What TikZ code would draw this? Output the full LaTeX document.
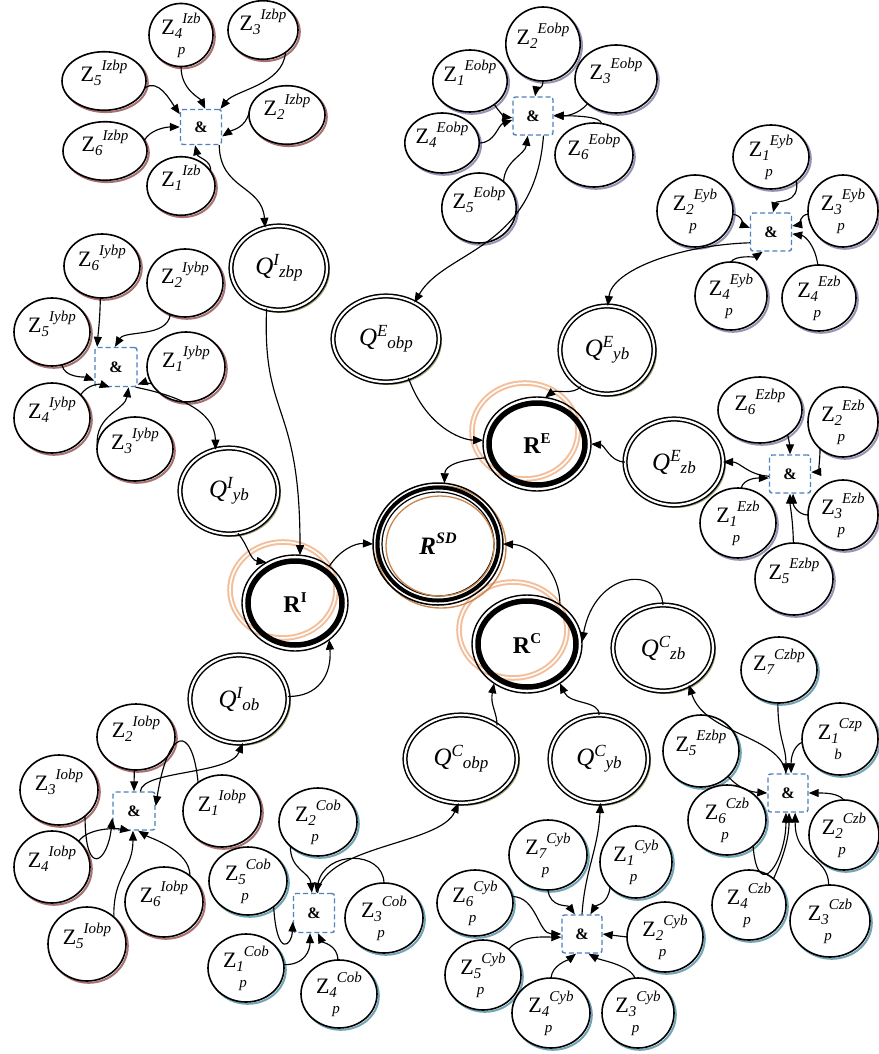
\documentclass[tikz,border=0pt]{standalone}
\usepackage{fontspec}
\setmainfont{Liberation Serif}
\usetikzlibrary{shapes.geometric,arrows.meta}

\definecolor{zIc}{HTML}{A87070}
\definecolor{zEc}{HTML}{9494B4}
\definecolor{zCc}{HTML}{70A4B6}
\definecolor{qsh}{HTML}{9CA478}
\definecolor{haloc}{HTML}{F4BE9A}
\definecolor{sdring}{HTML}{C8864E}
\definecolor{boxc}{HTML}{4F81BD}

% Z labels: Z, subscript, superscript and an optional wrapped line below
\newcommand{\zsz}{\fontsize{15}{15}\selectfont\itshape}
\newcommand{\zlabs}[3]{Z\rlap{\raisebox{-20pt}{\kern3pt\zsz #3}}\raisebox{-4pt}{\zsz #1}\raisebox{11pt}{\zsz #2}}
\newcommand{\zlab}[3]{\rule[-20pt]{0pt}{20pt}\zlabs{#1}{#2}{#3}}
\newcommand{\qlab}[2]{{\fontsize{25}{25}\selectfont\itshape Q\raisebox{9pt}{\fontsize{17}{17}\selectfont #1}\raisebox{-3pt}{\fontsize{17}{17}\selectfont #2}}}
\newcommand{\rlab}[1]{{\fontsize{24}{24}\selectfont\bfseries R\raisebox{10pt}{\fontsize{15}{15}\selectfont #1}}}

\begin{document}
\begin{tikzpicture}[x=1pt,y=-1pt,
  sz/.style 2 args={minimum width=#1pt, minimum height=#2pt},
  zbase/.style={ellipse, draw, line width=1.6pt, fill=white, inner sep=0pt, outer sep=0pt,
    font=\fontsize{22}{24}\selectfont},
  zI/.style={zbase, preaction={draw=zIc, line width=2pt, transform canvas={shift={(1.8pt,-1.8pt)}}}},
  zE/.style={zbase, preaction={draw=zEc, line width=2pt, transform canvas={shift={(1.8pt,-1.8pt)}}}},
  zC/.style={zbase, preaction={draw=zCc, line width=2pt, transform canvas={shift={(1.8pt,-1.8pt)}}}},
  qn/.style={ellipse, draw, line width=1.5pt, double=white, double distance=2.2pt, fill=white,
    inner sep=0pt, outer sep=0pt,
    preaction={draw=qsh, line width=2pt, transform canvas={shift={(2pt,-2pt)}}}},
  rn/.style={ellipse, draw, line width=1.4pt, inner sep=0pt, outer sep=0pt},
  ring/.style={line width=5.5pt},
  halo/.style={draw=haloc, line width=2pt, double=white, double distance=1.6pt},
  andbox/.style={rectangle, draw=boxc, line width=1.4pt, dash pattern=on 5pt off 3pt,
    rounded corners=2.5pt, fill=white, minimum width=41pt, minimum height=38pt, inner sep=0pt,
    font=\bfseries\fontsize{16}{16}\selectfont},
  conn/.style={line width=1.15pt, -{Triangle[length=10pt,width=8pt]}}
]
\useasboundingbox (0,0) rectangle (878,1054);

% ---- result nodes: halos and rings ----
\draw[halo] (525,431) ellipse [x radius=53pt, y radius=48pt];
\draw[halo] (283,590) ellipse [x radius=53pt, y radius=48pt];
\draw[halo] (513,630) ellipse [x radius=54pt, y radius=48pt];
\draw[line width=1.4pt, sdring] (441,547) ellipse [x radius=65pt, y radius=61pt];

\node[rn, sz={108}{94}] (rE) at (537,444) {\rlab{E}};
\draw[ring] (rE.center) ellipse [x radius=48pt, y radius=41pt];
\node[rn, sz={106}{96}] (rI) at (295,603) {\rlab{I}};
\draw[ring] (rI.center) ellipse [x radius=47pt, y radius=42pt];
\node[rn, sz={110}{98}] (rC) at (527,644) {\rlab{C}};
\draw[ring] (rC.center) ellipse [x radius=49pt, y radius=43pt];

\node[rn, line width=1.5pt, sz={130}{122}] (rSD) at (438,544)
  {{\fontsize{25}{25}\selectfont\bfseries\itshape R\raisebox{11pt}{\fontsize{16}{16}\selectfont SD}}};
\draw[line width=4pt] (rSD.center) ellipse [x radius=60.5pt, y radius=56.5pt];
\draw[line width=1.2pt] (rSD.center) ellipse [x radius=56pt, y radius=52pt];
\draw[line width=1.3pt, sdring] (440,546) ellipse [x radius=54pt, y radius=50pt];

% ---- intermediate nodes ----
\node[qn, sz={96}{84}]  (qIz) at (279,268) {\qlab{I}{zbp}};
\node[qn, sz={106}{86}] (qEo) at (386,339) {\qlab{E}{obp}};
\node[qn, sz={94}{88}]  (qEy) at (607,350) {\qlab{E}{yb}};
\node[qn, sz={98}{86}]  (qIy) at (229,491) {\qlab{I}{yb}};
\node[qn, sz={98}{88}]  (qIo) at (239,699) {\qlab{I}{ob}};
\node[qn, sz={98}{86}]  (qEz) at (674,462) {\qlab{E}{zb}};
\node[qn, sz={100}{86}] (qCz) at (663,648) {\qlab{C}{zb}};
\node[qn, sz={112}{88}] (qCo) at (461,759) {\qlab{C}{obp}};
\node[qn, sz={98}{88}]  (qCy) at (599,759) {\qlab{C}{yb}};

% ---- group Izbp ----
\node[zI, sz={64}{54}] (a4) at (181,35)  {\zlabs{4}{Izb}{p}};
\node[zI, sz={70}{42}] (a3) at (263,30)  {\zlabs{3}{Izbp}{}};
\node[zI, sz={84}{42}] (a5) at (104,81)  {\zlabs{5}{Izbp}{}};
\node[zI, sz={84}{44}] (a6) at (105,151) {\zlabs{6}{Izbp}{}};
\node[zI, sz={76}{44}] (a2) at (287,115) {\zlabs{2}{Izbp}{}};
\node[zI, sz={68}{48}] (a1) at (181,186) {\zlabs{1}{Izb}{}};
\node[andbox, minimum height=35pt] (andA) at (201,127) {\&};

% ---- group Eobp ----
\node[zE, sz={66}{74}] (b2) at (543,44)  {\zlab{2}{Eobp}{}};
\node[zE, sz={74}{62}] (b1) at (470,81)  {\zlab{1}{Eobp}{}};
\node[zE, sz={82}{68}] (b3) at (616,79)  {\zlab{3}{Eobp}{}};
\node[zE, sz={70}{60}] (b4) at (442,143) {\zlab{4}{Eobp}{}};
\node[zE, sz={78}{64}] (b6) at (594,155) {\zlab{6}{Eobp}{}};
\node[zE, sz={72}{70}] (b5) at (479,208) {\zlab{5}{Eobp}{}};
\node[andbox, minimum width=40pt] (andB) at (533,116) {\&};

% ---- group Eyb ----
\node[zE, sz={76}{64}] (c1) at (771,157) {\zlab{1}{Eyb}{p}};
\node[zE, sz={76}{72}] (c2) at (695,211) {\zlab{2}{Eyb}{p}};
\node[zE, sz={70}{72}] (c3) at (843,211) {\zlab{3}{Eyb}{p}};
\node[zE, sz={72}{68}] (c4) at (731,296) {\zlab{4}{Eyb}{p}};
\node[zE, sz={74}{66}] (c5) at (819,298) {\zlab{4}{Ezb}{p}};
\node[andbox] (andC) at (771,232) {\&};

% ---- group Iybp ----
\node[zI, sz={76}{64}] (d6) at (102,266) {\zlab{6}{Iybp}{}};
\node[zI, sz={76}{68}] (d2) at (185,283) {\zlab{2}{Iybp}{}};
\node[zI, sz={76}{68}] (d5) at (52,332)  {\zlab{5}{Iybp}{}};
\node[zI, sz={78}{70}] (d1) at (186,367) {\zlab{1}{Iybp}{}};
\node[zI, sz={76}{70}] (d4) at (52,418)  {\zlab{4}{Iybp}{}};
\node[zI, sz={76}{64}] (d3) at (135,449) {\zlab{3}{Iybp}{}};
\node[andbox, minimum width=42pt, minimum height=39pt] (andD) at (116,367) {\&};

% ---- group Iobp ----
\node[zI, sz={78}{66}] (e2) at (136,737) {\zlab{2}{Iobp}{}};
\node[zI, sz={78}{70}] (e3) at (59,790)  {\zlab{3}{Iobp}{}};
\node[zI, sz={78}{72}] (e1) at (222,811) {\zlab{1}{Iobp}{}};
\node[zI, sz={76}{72}] (e4) at (52,867)  {\zlab{4}{Iobp}{}};
\node[zI, sz={78}{70}] (e6) at (164,902) {\zlab{6}{Iobp}{}};
\node[zI, sz={78}{74}] (e5) at (87,944)  {\zlab{5}{Iobp}{}};
\node[andbox, minimum width=42pt] (andE) at (134,811) {\&};

% ---- group Cob ----
\node[zC, sz={78}{68}] (f2) at (318,822) {\zlab{2}{Cob}{p}};
\node[zC, sz={78}{68}] (f5) at (248,881) {\zlab{5}{Cob}{p}};
\node[zC, sz={78}{70}] (f3) at (384,918) {\zlab{3}{Cob}{p}};
\node[zC, sz={76}{68}] (f1) at (246,968) {\zlab{1}{Cob}{p}};
\node[zC, sz={76}{68}] (f4) at (339,994) {\zlab{4}{Cob}{p}};
\node[andbox, minimum height=39pt] (andF) at (314,913) {\&};

% ---- group Cyb ----
\node[zC, sz={78}{70}] (g7) at (548,855)  {\zlab{7}{Cyb}{p}};
\node[zC, sz={72}{72}] (g1) at (636,862)  {\zlab{1}{Cyb}{p}};
\node[zC, sz={76}{66}] (g6) at (475,903)  {\zlab{6}{Cyb}{p}};
\node[zC, sz={76}{70}] (g2) at (665,937)  {\zlab{2}{Cyb}{p}};
\node[zC, sz={76}{70}] (g5) at (483,975)  {\zlab{5}{Cyb}{p}};
\node[zC, sz={78}{70}] (g4) at (551,1013) {\zlab{4}{Cyb}{p}};
\node[zC, sz={72}{70}] (g3) at (638,1013) {\zlab{3}{Cyb}{p}};
\node[andbox, minimum width=40pt] (andG) at (582,934) {\&};

% ---- group Czb ----
\node[zC, sz={76}{66}] (h7) at (779,670) {\zlab{7}{Czbp}{}};
\node[zC, sz={76}{72}] (h1) at (840,739) {\zlab{1}{Czp}{b}};
\node[zC, sz={76}{72}] (h5) at (701,751) {\zlab{5}{Ezbp}{}};
\node[zC, sz={78}{70}] (h6) at (727,820) {\zlab{6}{Czb}{p}};
\node[zC, sz={70}{70}] (h2) at (844,835) {\zlab{2}{Czb}{p}};
\node[zC, sz={74}{70}] (h4) at (749,905) {\zlab{4}{Czb}{p}};
\node[zC, sz={80}{72}] (h3) at (830,921) {\zlab{3}{Czb}{p}};
\node[andbox, minimum width=40pt] (andH) at (788,793) {\&};

% ---- group Ezb ----
\node[zE, sz={84}{66}] (i6) at (760,410) {\zlab{6}{Ezbp}{}};
\node[zE, sz={70}{70}] (i2) at (843,422) {\zlab{2}{Ezb}{p}};
\node[zE, sz={76}{70}] (i1) at (738,523) {\zlab{1}{Ezb}{p}};
\node[zE, sz={70}{70}] (i3) at (843,515) {\zlab{3}{Ezb}{p}};
\node[zE, sz={78}{72}] (i5) at (794,579) {\zlab{5}{Ezbp}{}};
\node[andbox] (andI) at (790,474) {\&};

% ---- connectors: group Izbp ----
\draw[conn] (a4.-90) .. controls (181,90) and (200,98) .. (andA.77);
\draw[conn] (a3.-45) .. controls (283,85) and (235,90) .. (andA.43);
\draw[conn] (a5.-10) .. controls (158,78) and (170,100) .. (andA.149);
\draw[conn] (a6.15) .. controls (150,130) and (165,127) .. (andA.180);
\draw[conn] (a2.175) .. controls (246,128) and (232,130) .. (andA.-24);
\draw[conn] (a1.26) .. controls (212,160) and (198,158) .. (andA.-108);
\draw[conn] (andA.-45) .. controls (220,190) and (262,185) .. (qIz.109);
\draw[conn] (qIz.-107) .. controls (262,420) and (300,400) .. (rI.84);

% ---- group Eobp ----
\draw[conn] (b2.-90) .. controls (543,90) and (536,90) .. (andB.84);
\draw[conn] (b1.-44) .. controls (500,113) and (505,117) .. (andB.185);
\draw[conn] (b4.0) .. controls (495,143) and (498,125) .. (andB.191);
\draw[conn] (b3.221) .. controls (578,115) and (565,116) .. (andB.0);
\draw[conn] (b6.76) .. controls (600,116) and (575,116) .. (andB.2);
\draw[conn] (b5.47) .. controls (505,160) and (525,155) .. (andB.-105);
\draw[conn] (andB.-62) .. controls (535,250) and (445,250) .. (qEo.52);

% ---- group Eyb ----
\draw[conn] (c1.-43) .. controls (800,205) and (776,200) .. (andC.84);
\draw[conn] (c2.-5) .. controls (742,215) and (745,226) .. (andC.169);
\draw[conn] (c3.185) .. controls (800,215) and (798,225) .. (andC.16);
\draw[conn] (c4.90) .. controls (735,255) and (755,257) .. (andC.-113);
\draw[conn] (c5.92) .. controls (815,245) and (805,236) .. (andC.-5);
\draw[conn] (andC.207) .. controls (680,245) and (612,270) .. (qEy.89);

% ---- group Iybp ----
\draw[conn] (d6.-93) .. controls (100,320) and (98,335) .. (andD.133);
\draw[conn] (d2.-115) .. controls (167,338) and (125,330) .. (andD.93);
\draw[conn] (d5.-73) .. controls (64,378) and (85,377) .. (andD.212);
\draw[conn] (d4.39) .. controls (88,384) and (100,384) .. (andD.-107);
\draw[conn] (d1.206) .. controls (148,383) and (142,383) .. (andD.-39);
\draw[conn] (d3.175) .. controls (95,415) and (125,410) .. (andD.-58);
\draw[conn] (andD.-46) .. controls (175,395) and (215,410) .. (qIy.108);
\draw[conn] (qIy.-78) .. controls (248,545) and (250,560) .. (rI.125);

% ---- group Iobp ----
\draw[conn] (e2.-93) -- (andE.90);
\draw[conn] (e1.130) .. controls (192,722) and (168,728) .. (andE.13);
\draw[conn] (e3.-45) .. controls (85,880) and (108,862) .. (andE.198);
\draw[conn] (e4.44) .. controls (88,828) and (115,828) .. (andE.-101);
\draw[conn] (e5.45) .. controls (113,875) and (133,870) .. (andE.-93);
\draw[conn] (e6.45) .. controls (190,850) and (150,838) .. (andE.-78);
\draw[conn] (andE.72) .. controls (142,770) and (230,775) .. (qIo.-85);
\draw[conn] (qIo.3) .. controls (318,697) and (332,675) .. (rI.-47);

% ---- group Cob ----
\draw[conn] (f2.221) .. controls (290,870) and (310,872) .. (andF.96);
\draw[conn] (f3.90) .. controls (383,850) and (325,850) .. (andF.84);
\draw[conn] (andF.80) .. controls (325,845) and (440,845) .. (qCo.-93);
\draw[conn] (f5.-45) .. controls (277,960) and (292,945) .. (andF.202);
\draw[conn] (f1.5) .. controls (305,965) and (310,950) .. (andF.-101);
\draw[conn] (f4.92) .. controls (338,945) and (322,942) .. (andF.-79);
\draw[conn] (qCo.43) .. controls (497,712) and (490,705) .. (rC.-130);
\draw[conn] (qCy.90) .. controls (600,700) and (570,705) .. (rC.-50);

% ---- group Cyb ----
\draw[conn] (g7.-90) .. controls (550,908) and (568,905) .. (andG.110);
\draw[conn] (g1.224) .. controls (608,905) and (596,905) .. (andG.67);
\draw[conn] (andG.90) .. controls (585,870) and (598,850) .. (qCy.-88);
\draw[conn] (g6.10) .. controls (537,897) and (538,934) .. (andG.180);
\draw[conn] (g5.45) .. controls (520,935) and (545,937) .. (andG.189);
\draw[conn] (g2.180) -- (andG.0);
\draw[conn] (g4.90) .. controls (552,965) and (568,960) .. (andG.-107);
\draw[conn] (g3.95) .. controls (630,965) and (600,960) .. (andG.-72);

% ---- group Czb ----
\draw[conn] (h7.-92) .. controls (778,740) and (786,745) .. (andH.96);
\draw[conn] (h1.185) .. controls (795,745) and (791,755) .. (andH.81);
\draw[conn] (andH.96) .. controls (780,735) and (705,735) .. (qCz.-55);
\draw[conn] (h5.-43) .. controls (740,790) and (752,792) .. (andH.180);
\draw[conn] (h2.90) .. controls (838,793) and (825,793) .. (andH.0);
\draw[conn] (h6.-45) .. controls (758,905) and (786,860) .. (andH.-96);
\draw[conn] (h4.47) .. controls (782,860) and (789,840) .. (andH.-87);
\draw[conn] (h3.92) .. controls (828,855) and (795,860) .. (andH.-70);

% ---- group Ezb ----
\draw[conn] (i6.-42) .. controls (790,445) and (790,448) .. (andI.90);
\draw[conn] (i2.229) .. controls (820,465) and (817,472) .. (andI.5);
\draw[conn] (i1.85) .. controls (744,478) and (758,478) .. (andI.191);
\draw[conn] (andI.186) .. controls (748,475) and (740,462) .. (qEz.0);
\draw[conn] (i3.180) .. controls (798,515) and (793,505) .. (andI.-81);
\draw[conn] (i5.91) .. controls (793,520) and (790,505) .. (andI.-90);

% ---- into the results ----
\draw[conn] (qEz.180) .. controls (610,462) and (605,445) .. (rE.0);
\draw[conn] (qEy.234) .. controls (575,395) and (555,390) .. (rE.80);
\draw[conn] (qEo.-60) .. controls (425,425) and (460,440) .. (rE.176);
\draw[conn] (rE.195) .. controls (460,460) and (445,465) .. (rSD.84);
\draw[conn] (rI.47) .. controls (340,550) and (355,543) .. (rSD.180);
\draw[conn] (rC.50) .. controls (560,568) and (530,545) .. (rSD.0);
\draw[conn] (qCz.90) .. controls (660,565) and (595,570) .. (rC.2);
\end{tikzpicture}
\end{document}
